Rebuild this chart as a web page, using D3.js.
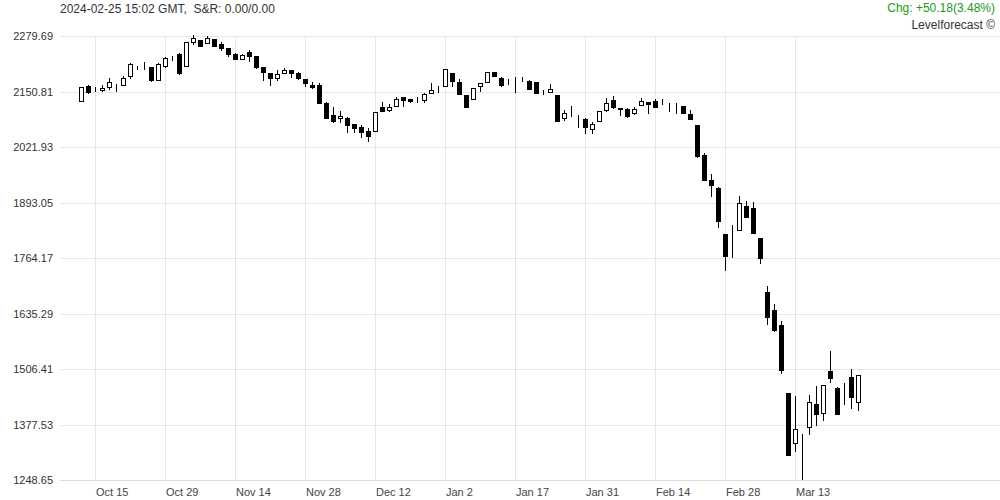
<!DOCTYPE html>
<html>
<head>
<meta charset="utf-8">
<script src="https://cdn.jsdelivr.net/npm/d3@7"></script>
<style>
  html, body { margin: 0; padding: 0; background: #fff; }
  svg { display: block; font-family: "Liberation Sans", Arial, sans-serif; }
</style>
</head>
<body>
<svg id="chart" width="1000" height="500"></svg>
<script>
// ---- data ----
const open = [2128.0,2163.6,2155.9,2152.7,2162.0,2168.2,2165.9,2186.8,2210.7,2210.7,2207.0,2175.9,2211.6,2227.9,2237.9,2208.4,2264.1,2270.4,2262.7,2272.0,2261.1,2251.1,2237.2,2227.9,2242.5,2233.3,2207.0,2193.1,2181.5,2193.1,2200.7,2194.5,2179.1,2165.9,2165.9,2124.8,2096.2,2088.6,2090.0,2075.3,2068.4,2059.1,2057.5,2114.1,2107.9,2115.5,2138.7,2134.1,2131.1,2129.4,2146.6,2152.7,2162.0,2193.1,2172.2,2142.7,2132.7,2162.0,2171.2,2195.4,2182.9,2173.6,2175.9,2179.1,2175.9,2172.2,2149.0,2150.3,2142.7,2090.0,2102.5,2080.7,2086.2,2063.0,2083.0,2106.2,2131.1,2111.8,2109.5,2100.2,2121.1,2125.7,2129.4,2125.7,2115.5,2115.5,2117.1,2098.6,2073.0,2003.4,1945.3,1927.4,1819.9,1807.6,1827.6,1884.9,1881.0,1811.3,1684.5,1642.7,1608.6,1449.9,1333.9,1341.5,1371.0,1424.4,1404.9,1501.8,1463.0,1449.9,1487.1,1430.5];
const high = [2162.4,2165.9,2160.6,2165.9,2182.9,2168.5,2186.8,2216.3,2211.0,2218.6,2207.5,2216.3,2231.6,2233.3,2239.5,2266.0,2281.0,2271.5,2279.7,2272.5,2266.5,2251.5,2239.5,2237.0,2247.2,2234.0,2207.5,2193.5,2200.7,2204.7,2201.0,2196.8,2179.5,2173.6,2169.9,2125.5,2114.1,2105.5,2090.5,2075.5,2073.0,2065.4,2103.0,2125.7,2121.1,2138.7,2139.0,2134.5,2138.7,2146.6,2171.2,2163.6,2203.0,2193.5,2179.1,2143.0,2158.5,2170.0,2196.0,2196.0,2183.5,2179.1,2185.2,2185.2,2176.5,2173.0,2154.3,2168.2,2143.0,2107.9,2117.1,2096.2,2088.6,2080.7,2106.5,2135.0,2141.0,2112.0,2111.8,2115.5,2136.4,2126.0,2132.7,2132.7,2123.4,2124.8,2117.5,2107.9,2073.5,2007.3,1959.2,1928.0,1820.5,1840.8,1908.1,1896.5,1893.5,1811.5,1699.1,1657.4,1617.9,1450.5,1443.7,1355.4,1446.0,1466.9,1469.5,1548.2,1465.3,1473.2,1506.4,1493.0];
const low = [2126.4,2144.3,2149.6,2150.0,2154.3,2150.3,2163.6,2179.1,2200.7,2200.7,2173.6,2175.0,2204.7,2221.6,2189.1,2207.0,2258.8,2255.5,2261.1,2253.5,2245.6,2231.6,2224.0,2227.0,2220.0,2202.4,2175.9,2164.3,2175.9,2191.5,2181.5,2177.5,2160.6,2155.9,2123.0,2089.5,2078.4,2078.4,2055.1,2053.7,2042.1,2034.2,2057.0,2103.9,2103.9,2115.0,2114.1,2123.4,2124.8,2123.4,2146.0,2148.0,2161.5,2160.6,2144.5,2115.0,2132.5,2150.3,2171.0,2184.5,2160.6,2165.9,2148.0,2173.6,2154.3,2147.0,2142.7,2150.0,2082.5,2083.0,2092.3,2065.4,2052.1,2052.1,2082.5,2103.9,2109.5,2093.9,2088.6,2096.2,2119.5,2097.9,2111.8,2119.5,2103.9,2097.9,2099.0,2084.6,1997.1,1945.0,1906.5,1834.5,1734.7,1764.9,1827.0,1857.7,1822.5,1749.5,1608.6,1593.0,1494.8,1304.5,1314.3,1248.7,1353.1,1374.7,1385.6,1474.6,1401.2,1422.8,1412.8,1409.5];
const close = [2160.6,2149.0,2155.9,2158.2,2173.6,2168.2,2182.9,2214.0,2210.7,2210.7,2175.9,2214.0,2229.3,2227.9,2194.5,2265.1,2274.3,2256.5,2274.3,2256.5,2251.1,2237.2,2226.3,2236.3,2233.3,2208.4,2195.4,2181.5,2191.5,2200.7,2194.5,2183.8,2169.9,2160.6,2123.4,2090.0,2082.3,2093.9,2074.6,2066.7,2056.1,2047.5,2102.5,2105.5,2114.1,2132.7,2131.1,2129.4,2131.1,2144.3,2154.3,2152.7,2202.4,2173.6,2145.0,2115.5,2158.2,2169.9,2195.4,2185.2,2165.9,2173.6,2175.9,2179.1,2158.2,2147.3,2149.0,2156.6,2083.0,2101.6,2102.5,2080.7,2066.7,2074.6,2106.2,2123.4,2114.1,2109.5,2092.3,2109.5,2129.4,2121.8,2115.5,2125.7,2115.5,2115.5,2099.7,2087.0,2001.0,1945.3,1933.7,1850.8,1769.5,1807.6,1891.2,1860.1,1822.9,1764.9,1625.5,1597.0,1504.1,1305.1,1366.4,1341.5,1429.1,1401.2,1469.2,1486.2,1403.5,1449.9,1439.7,1492.5];
const yTicks = [2279.69, 2150.81, 2021.93, 1893.05, 1764.17, 1635.29, 1506.41, 1377.53, 1248.65];
const xTickIndex = [2, 12, 22, 32, 42, 52, 62, 72, 82, 92, 102];
const xTickLabels = ["Oct 15", "Oct 29", "Nov 14", "Nov 28", "Dec 12", "Jan 2", "Jan 17", "Jan 31", "Feb 14", "Feb 28", "Mar 13"];
const headerText = "2024-02-25 15:02 GMT,  S&R: 0.00/0.00";
const changeText = "Chg: +50.18(3.48%)";
const brandText = "Levelforecast \u00A9";

// ---- layout ----
const M = { left: 60, right: 1000, top: 36, bottom: 480 };
const svg = d3.select("#chart");
const candles = open.map((o, i) => ({ i, o, h: high[i], l: low[i], c: close[i] }));

const x = d3.scaleLinear().domain([0, candles.length - 1]).range([81.5, 81.5 + 7 * (candles.length - 1)]);
const y = d3.scaleLinear().domain([yTicks[yTicks.length - 1], yTicks[0]]).range([M.bottom, M.top]);
const crisp = v => Math.round(v) + 0.5;

// horizontal grid
const gridColor = "#e6e6e6";
svg.append("g").selectAll("line").data(yTicks).join("line")
  .attr("x1", M.left).attr("x2", M.right)
  .attr("y1", d => crisp(y(d))).attr("y2", d => crisp(y(d)))
  .attr("stroke", gridColor).attr("stroke-width", 1);

// vertical grid
svg.append("g").selectAll("line").data(xTickIndex).join("line")
  .attr("x1", d => x(d)).attr("x2", d => x(d))
  .attr("y1", M.top).attr("y2", M.bottom)
  .attr("stroke", gridColor).attr("stroke-width", 1);

// y axis labels
const yAxis = d3.axisLeft(y).tickValues(yTicks).tickFormat(d3.format(".2f")).tickSize(0).tickPadding(7);
const yg = svg.append("g").attr("transform", `translate(${M.left},0)`).call(yAxis);
yg.select(".domain").remove();
yg.selectAll("text").attr("fill", "#333").attr("font-size", 11)
  .attr("font-family", "Liberation Sans, Arial, sans-serif");

// x axis labels (left aligned at gridline)
const xAxis = d3.axisBottom(x).tickValues(xTickIndex).tickFormat((d, k) => xTickLabels[k]).tickSize(0).tickPadding(8);
const xg = svg.append("g").attr("transform", `translate(0,${M.bottom})`).call(xAxis);
xg.select(".domain").remove();
xg.selectAll("text").attr("fill", "#444").attr("font-size", 11).attr("text-anchor", "start")
  .attr("font-family", "Liberation Sans, Arial, sans-serif");

// bottom axis line
svg.append("line").attr("x1", M.left).attr("x2", M.right).attr("y1", M.bottom + 0.5).attr("y2", M.bottom + 0.5)
  .attr("stroke", "#dcdcdc");

// candles
const cg = svg.append("g");
cg.selectAll("line.wick").data(candles).join("line").attr("class", "wick")
  .attr("x1", d => x(d.i)).attr("x2", d => x(d.i))
  .attr("y1", d => Math.round(y(d.h))).attr("y2", d => Math.round(y(d.l)))
  .attr("stroke", "#000").attr("stroke-width", 1);
cg.selectAll("rect.body").data(candles).join("rect").attr("class", "body")
  .attr("x", d => x(d.i) - 2)
  .attr("width", 4)
  .attr("y", d => crisp(y(Math.max(d.o, d.c))))
  .attr("height", d => Math.max(0, Math.round(y(Math.min(d.o, d.c)) - y(Math.max(d.o, d.c)))))
  .attr("fill", d => d.c >= d.o ? "#fff" : "#000")
  .attr("stroke", "#000").attr("stroke-width", 1);

// header texts
svg.append("text").attr("x", 60).attr("y", 13).attr("font-size", 12).attr("fill", "#333")
  .attr("xml:space", "preserve").style("white-space", "pre").text(headerText);
svg.append("text").attr("x", 995).attr("y", 12).attr("font-size", 12).attr("fill", "#1a9a1a")
  .attr("text-anchor", "end").text(changeText);
svg.append("text").attr("x", 995).attr("y", 29).attr("font-size", 12).attr("fill", "#333")
  .attr("text-anchor", "end").text(brandText);
</script>
</body>
</html>
